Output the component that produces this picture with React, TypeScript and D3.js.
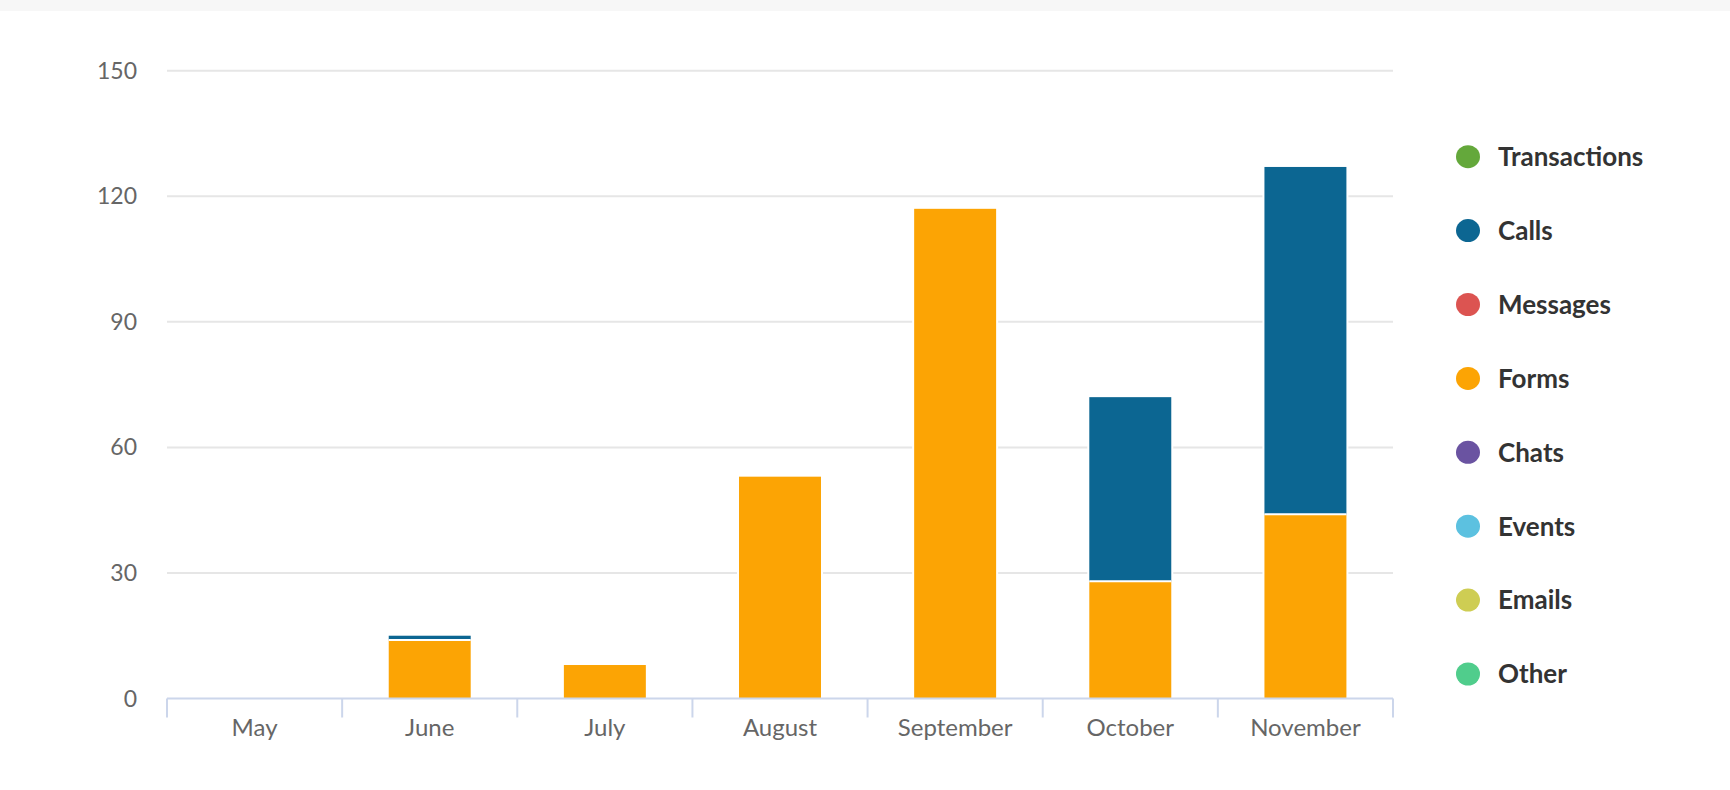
import { useMemo } from "react";
import * as d3 from "d3";

const WIDTH = 1730;
const HEIGHT = 790;
const MARGIN = { top: 70.7, right: 337, bottom: 91.5, left: 167 };

const months = ["May", "June", "July", "August", "September", "October", "November"];
const forms = [0, 14, 8, 53, 117, 28, 44];
const calls = [0, 1, 0, 0, 0, 44, 83];
const yTicks = [0, 30, 60, 90, 120, 150];

const legendNames = ["Transactions", "Calls", "Messages", "Forms", "Chats", "Events", "Emails", "Other"];
const legendColors = ["#64a83b", "#0c6692", "#dc5451", "#fca404", "#6a53a1", "#5cc1e0", "#cecd53", "#50cd8c"];

const FONT = "Lato, 'Noto Sans', sans-serif";

export default function App() {
  const boundsWidth = WIDTH - MARGIN.left - MARGIN.right;
  const boundsHeight = HEIGHT - MARGIN.top - MARGIN.bottom;

  const xScale = useMemo(
    () => d3.scaleBand().domain(months).range([0, boundsWidth]).padding(0),
    [boundsWidth]
  );
  const yScale = useMemo(
    () => d3.scaleLinear().domain([0, 150]).range([boundsHeight, 0]),
    [boundsHeight]
  );

  // stack forms (bottom) and calls (top)
  const stackData = months.map((m, i) => ({ month: m, forms: forms[i], calls: calls[i] }));
  const series = d3.stack<any>().keys(["forms", "calls"])(stackData);
  const seriesColor: Record<string, string> = { forms: "#fca404", calls: "#0c6692" };

  const barWidth = xScale.bandwidth() * 0.468;
  const barX = (i: number) => (xScale(months[i]) ?? 0) + (xScale.bandwidth() - barWidth) / 2;

  const totals = months.map((_, i) => forms[i] + calls[i]);

  // white halo behind each column (cuts the gridlines like the point border does)
  const halos = totals.map((t, i) =>
    t > 0 ? (
      <rect
        key={"h" + i}
        x={barX(i) - 2}
        width={barWidth + 4}
        y={yScale(t)}
        height={yScale(0) - yScale(t)}
        fill="#ffffff"
      />
    ) : null
  );

  const bars = series.flatMap((s, si) =>
    s.map((d, i) => {
      const v = d[1] - d[0];
      if (v <= 0) return null;
      const below = si > 0 && d[0] > 0;
      return (
        <g key={s.key + i}>
          <rect
            x={barX(i)}
            width={barWidth}
            y={yScale(d[1])}
            height={yScale(d[0]) - yScale(d[1])}
            fill={seriesColor[s.key]}
          />
          {below && (
            <line
              x1={barX(i)}
              x2={barX(i) + barWidth}
              y1={yScale(d[0])}
              y2={yScale(d[0])}
              stroke="#ffffff"
              strokeWidth={2}
            />
          )}
        </g>
      );
    })
  );

  const edges = [...months.map((m) => xScale(m) ?? 0), boundsWidth];

  return (
    <svg width={WIDTH} height={HEIGHT} style={{ position: "absolute", left: 0, top: 0, background: "#fff" }}>
      <rect x={0} y={0} width={WIDTH} height={11} fill="#f7f7f7" />
      <g transform={`translate(${MARGIN.left}, ${MARGIN.top})`}>
        {yTicks.map((t) => (
          <g key={t}>
            {t > 0 && (
              <line x1={0} x2={boundsWidth} y1={yScale(t)} y2={yScale(t)} stroke="#e6e6e6" strokeWidth={2} />
            )}
            <text
              x={-30}
              y={yScale(t)}
              dy="0.35em"
              textAnchor="end"
              fontFamily={FONT}
              fontSize={23}
              fill="#666666"
            >
              {t}
            </text>
          </g>
        ))}
        {halos}
        {bars}
        <line x1={0} x2={boundsWidth} y1={boundsHeight} y2={boundsHeight} stroke="#ccd6eb" strokeWidth={2} />
        {edges.map((e, i) => (
          <line key={i} x1={e} x2={e} y1={boundsHeight} y2={boundsHeight + 19} stroke="#ccd6eb" strokeWidth={2} />
        ))}
        {months.map((m) => (
          <text
            key={m}
            x={(xScale(m) ?? 0) + xScale.bandwidth() / 2}
            y={boundsHeight + 38}
            textAnchor="middle"
            fontFamily={FONT}
            fontSize={24}
            fill="#666666"
          >
            {m}
          </text>
        ))}
      </g>
      <g transform="translate(1468, 156.7)">
        {legendNames.map((name, i) => (
          <g key={name} transform={`translate(0, ${i * 73.9})`}>
            <ellipse cx={0} cy={0} rx={12} ry={11.5} fill={legendColors[i]} />
            <text
              x={30}
              y={0}
              dy="0.36em"
              fontFamily={FONT}
              fontSize={26}
              fontWeight="bold"
              fill="#333333"
            >
              {name}
            </text>
          </g>
        ))}
      </g>
    </svg>
  );
}
